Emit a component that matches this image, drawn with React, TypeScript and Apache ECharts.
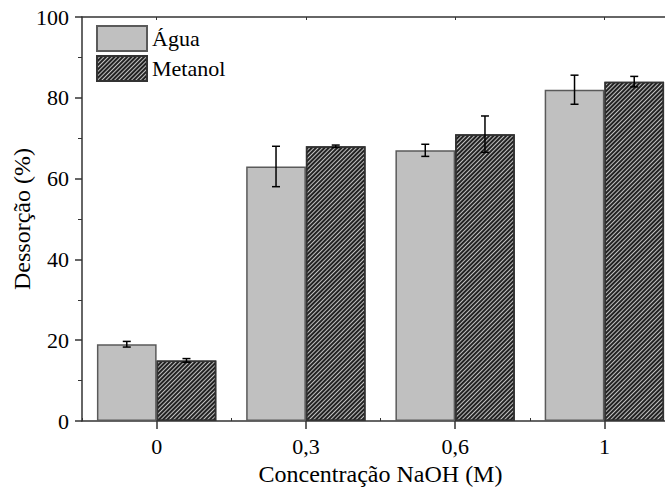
import React, { useEffect, useRef } from "react";
import * as echarts from "echarts";

const categories = ["0", "0,3", "0,6", "1"];
const aguaValues = [19, 63, 67, 82];
const aguaErrors = [0.7, 5, 1.5, 3.6];
const metanolValues = [15, 68, 71, 84];
const metanolErrors = [0.45, 0.3, 4.5, 1.3];
const yTicks = [0, 20, 40, 60, 80, 100];

const FONT = "Liberation Serif";

export default function App() {
  const ref = useRef<HTMLDivElement>(null);
  useEffect(() => {
    if (!ref.current) return;
    const chart = echarts.init(ref.current, undefined, { renderer: "svg" });

    const errData: number[][] = [];
    aguaValues.forEach((v, i) => errData.push([i, v - aguaErrors[i], v + aguaErrors[i], -1]));
    metanolValues.forEach((v, i) => errData.push([i, v - metanolErrors[i], v + metanolErrors[i], 1]));

    const hatch = {
      symbol: "rect",
      symbolSize: 1,
      dashArrayX: [1, 0],
      dashArrayY: [1.1, 1],
      rotation: -Math.PI / 4,
      color: "#222",
    };

    chart.setOption({
      animation: false,
      backgroundColor: "#fff",
      textStyle: { fontFamily: FONT, color: "#000" },
      grid: { left: 82, top: 17, width: 597, height: 404, containLabel: false, outerBoundsMode: "none" },
      legend: {
        data: ["Água", "Metanol"],
        orient: "vertical",
        left: 96,
        top: 25,
        padding: 0,
        itemWidth: 50,
        itemHeight: 25,
        itemGap: 3,
        icon: "rect",
        textStyle: { fontFamily: FONT, fontSize: 22, color: "#000" },
      },
      xAxis: [
        {
          type: "category",
          data: categories,
          position: "bottom",
          boundaryGap: true,
          name: "Concentração NaOH (M)",
          nameLocation: "middle",
          nameGap: 38,
          nameTextStyle: { fontFamily: FONT, fontSize: 24, color: "#000" },
          axisLine: { show: true, lineStyle: { color: "#333", width: 1.5 } },
          axisTick: { show: true, alignWithLabel: true, inside: false, length: 8, lineStyle: { color: "#333", width: 1.5 } },
          axisLabel: { fontFamily: FONT, fontSize: 22, color: "#000", margin: 14 },
          splitLine: { show: false },
        },
        {
          type: "category",
          data: categories,
          position: "bottom",
          boundaryGap: true,
          axisLine: { show: false },
          axisTick: { show: true, alignWithLabel: false, inside: true, length: 3, lineStyle: { color: "#333", width: 1 } },
          axisLabel: { show: false },
          splitLine: { show: false },
        },
        {
          type: "category",
          data: categories,
          position: "top",
          boundaryGap: true,
          axisLine: { show: true, lineStyle: { color: "#333", width: 1.5 } },
          axisTick: { show: true, alignWithLabel: true, inside: true, length: 3, lineStyle: { color: "#333", width: 1 } },
          axisLabel: { show: false },
          splitLine: { show: false },
        },
      ],
      yAxis: {
        type: "value",
        min: yTicks[0],
        max: yTicks[yTicks.length - 1],
        interval: 20,
        name: "Dessorção (%)",
        nameLocation: "middle",
        nameGap: 48,
        nameMoveOverlap: false,
        nameTextStyle: { fontFamily: FONT, fontSize: 24, color: "#000" },
        axisLine: { show: true, lineStyle: { color: "#333", width: 1.5 } },
        axisTick: { show: true, inside: false, length: 7, lineStyle: { color: "#333", width: 1.5 } },
        minorTick: { show: true, splitNumber: 2, length: 4, lineStyle: { color: "#333", width: 1 } },
        axisLabel: { fontFamily: FONT, fontSize: 22, color: "#000", margin: 13 },
        splitLine: { show: false },
      },
      series: [
        {
          name: "Água",
          type: "bar",
          xAxisIndex: 0,
          data: aguaValues,
          barGap: "0%",
          barCategoryGap: "20%",
          itemStyle: { color: "#c0c0c0", borderColor: "#5a5a5a", borderWidth: 1.5 },
        },
        {
          name: "Metanol",
          type: "bar",
          xAxisIndex: 0,
          data: metanolValues,
          barGap: "0%",
          barCategoryGap: "20%",
          itemStyle: { color: "#c0c0c0", borderColor: "#333", borderWidth: 1.5, decal: hatch },
        },
        {
          name: "err",
          type: "custom",
          xAxisIndex: 0,
          z: 5,
          data: errData,
          encode: { x: 0, y: [1, 2] },
          renderItem: (params: any, api: any) => {
            const idx = api.value(0);
            const low = api.coord([idx, api.value(1)]);
            const high = api.coord([idx, api.value(2)]);
            const band = api.size([1, 0])[0];
            const x = low[0] + api.value(3) * band * 0.2;
            const cap = 4;
            const style = { stroke: "#000", lineWidth: 1.5 };
            return {
              type: "group",
              children: [
                { type: "line", shape: { x1: x, y1: high[1], x2: x, y2: low[1] }, style },
                { type: "line", shape: { x1: x - cap, y1: high[1], x2: x + cap, y2: high[1] }, style },
                { type: "line", shape: { x1: x - cap, y1: low[1], x2: x + cap, y2: low[1] }, style },
              ],
            };
          },
        },
      ],
    });
    return () => chart.dispose();
  }, []);

  return (
    <div style={{ position: "fixed", left: 0, top: 0, width: 665, height: 488, overflow: "hidden", background: "#fff" }}>
      <div ref={ref} style={{ width: 665, height: 488 }} />
    </div>
  );
}
